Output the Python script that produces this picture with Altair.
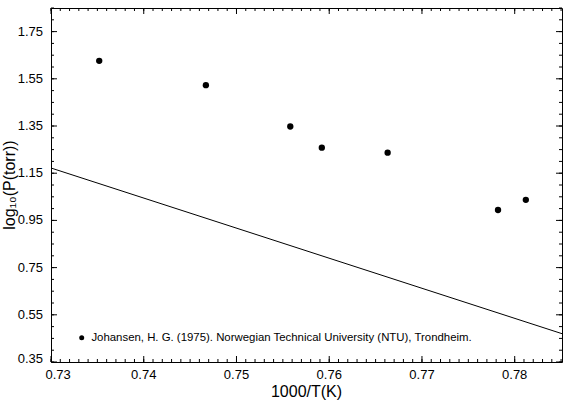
import altair as alt
import pandas as pd

FONT = "Liberation Sans"
W, H = 511, 354

# Vapour pressure measurements: 1000/T (K^-1) against log10 of pressure (torr)
inv_temp = [0.7352, 0.7467, 0.7558, 0.7592, 0.7663, 0.7782, 0.7812]
log_p = [1.626, 1.523, 1.348, 1.258, 1.237, 0.994, 1.037]
source = "Johansen, H. G. (1975). Norwegian Technical University (NTU), Trondheim."

# Correlation line, evaluated at the ends of the x range
fit_x = [0.73, 0.7851]
fit_y = [1.172, 0.470]

x_domain = [0.73, 0.7851]
y_domain = [0.35, 1.85]

x_major = [0.73, 0.74, 0.75, 0.76, 0.77, 0.78]
x_minor = [round(0.73 + 0.001 * i, 3) for i in range(56)]
y_major = [0.35, 0.55, 0.75, 0.95, 1.15, 1.35, 1.55, 1.75]
y_minor = [round(0.35 + 0.05 * i, 2) for i in range(31)]

x_title = "1000/T(K)"
y_title = "log₁₀(P(torr))"

points = pd.DataFrame({"x": inv_temp, "y": log_p, "source": [source] * len(inv_temp)})
fit = pd.DataFrame({"x": fit_x, "y": fit_y})

xs = alt.Scale(domain=x_domain, nice=False, zero=False)
ys = alt.Scale(domain=y_domain, nice=False, zero=False)


# Inward-pointing frame ticks, drawn as tick marks
def x_ticks(values, length, y_center):
    return alt.Chart(pd.DataFrame({"tv": values})).mark_tick(
        orient="vertical", size=length, thickness=1, color="black", opacity=1,
    ).encode(x=alt.X("tv:Q", scale=xs, axis=None), y=alt.value(y_center))


def y_ticks(values, length, x_center):
    return alt.Chart(pd.DataFrame({"tv": values})).mark_tick(
        orient="horizontal", size=length, thickness=1, color="black", opacity=1,
    ).encode(y=alt.Y("tv:Q", scale=ys, axis=None), x=alt.value(x_center))


ticks = [
    x_ticks(x_major, 6, H - 3), x_ticks(x_minor, 3, H - 1.5),
    x_ticks(x_major, 6, 3), x_ticks(x_minor, 3, 1.5),
    y_ticks(y_major, 6, 3), y_ticks(y_minor, 3, 1.5),
    y_ticks(y_major, 6, W - 3), y_ticks(y_minor, 3, W - 1.5),
]


# Tick labels; the corner labels are nudged away from each other
def x_labels(values, align, dx):
    return alt.Chart(pd.DataFrame({"lx": values})).mark_text(
        font=FONT, fontSize=13, color="black", align=align, baseline="top", dx=dx,
    ).encode(x=alt.X("lx:Q", scale=xs, axis=None), y=alt.value(H + 7),
             text=alt.Text("lx:Q", format=".2f"))


def y_labels(values, baseline, dy):
    return alt.Chart(pd.DataFrame({"ly": values})).mark_text(
        font=FONT, fontSize=13, color="black", align="right", baseline=baseline, dy=dy,
    ).encode(y=alt.Y("ly:Q", scale=ys, axis=None), x=alt.value(-8),
             text=alt.Text("ly:Q", format=".2f"))


tick_labels = [
    x_labels(x_major[:1], "left", -5.5),
    x_labels(x_major[1:], "center", 0),
    y_labels(y_major[:1], "alphabetic", 1),
    y_labels(y_major[1:], "middle", 0),
]

title_x = alt.Chart(pd.DataFrame({"t": [x_title]})).mark_text(
    font=FONT, fontSize=16, color="black", align="center", baseline="alphabetic",
).encode(text="t:N", x=alt.value(W / 2), y=alt.value(H + 34.5))

title_y = alt.Chart(pd.DataFrame({"t": [y_title]})).mark_text(
    font=FONT, fontSize=16, color="black", align="center", baseline="alphabetic",
    angle=270,
).encode(text="t:N", x=alt.value(-36), y=alt.value(H / 2))

line = alt.Chart(fit).mark_line(color="black", strokeWidth=1, clip=True).encode(
    x=alt.X("x:Q", scale=xs, axis=None),
    y=alt.Y("y:Q", scale=ys, axis=None),
)

dots = alt.Chart(points).mark_circle(size=40, opacity=1).encode(
    x=alt.X("x:Q", scale=xs, axis=None),
    y=alt.Y("y:Q", scale=ys, axis=None),
    color=alt.Color(
        "source:N",
        scale=alt.Scale(range=["black"]),
        legend=alt.Legend(
            orient="none", legendX=25, legendY=324, title=None,
            labelFont=FONT, labelFontSize=11.4, labelColor="black",
            labelLimit=600, labelOffset=4,
            symbolType="circle", symbolSize=25, symbolStrokeWidth=0,
        ),
    ),
)

chart = (
    alt.layer(line, dots, *tick_labels, title_x, title_y, *ticks)
    .properties(
        width=W, height=H,
        autosize=alt.AutoSizeParams(type="none"),
        padding={"left": 51, "top": 8, "right": 4, "bottom": 43},
        background="white",
    )
    .configure_view(stroke="black", strokeWidth=1)
)

chart.save("out.html", embed_options={"renderer": "svg", "actions": False})
